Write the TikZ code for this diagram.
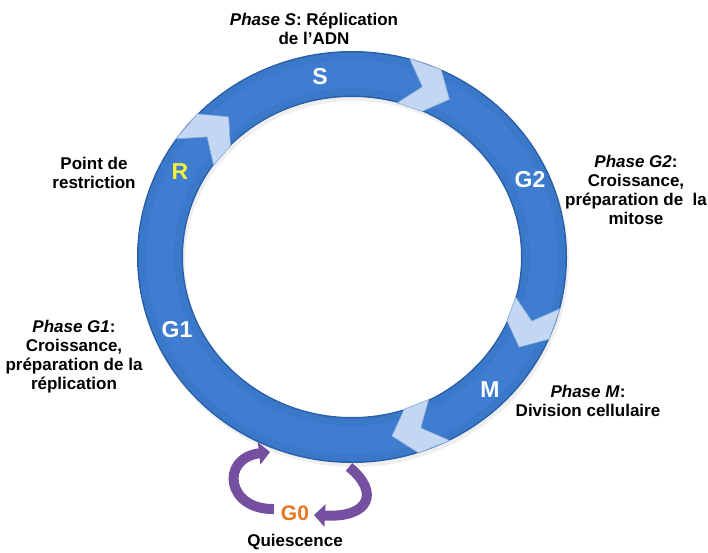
\documentclass[tikz,border=0pt]{standalone}
\usepackage{fontspec}
\setmainfont{Liberation Sans}
\usetikzlibrary{arrows.meta}
\definecolor{ringdark}{HTML}{2B5FA8}
\definecolor{ringmid}{HTML}{3A78CA}
\definecolor{ringlight}{HTML}{3E7DCF}
\definecolor{chevfill}{HTML}{C4D7F2}
\definecolor{chevline}{HTML}{86A8D8}
\definecolor{purp}{HTML}{7650A0}
\definecolor{gzero}{HTML}{E8761E}
\definecolor{ryellow}{HTML}{F2F23A}
\newcommand\chevshape[1]{%
  \filldraw[chev] ({352+215*cos(#1)},{257-206*sin(#1)})
   -- ({352+215*cos(#1-9)},{257-206*sin(#1-9)})
   -- ({352+192*cos(#1-15)},{257-183*sin(#1-15)})
   -- ({352+169*cos(#1-9)},{257-160*sin(#1-9)})
   -- ({352+169*cos(#1)},{257-160*sin(#1)})
   -- ({352+192*cos(#1-6)},{257-183*sin(#1-6)}) -- cycle;}
\tikzset{
  chev/.style={fill=chevfill, draw=chevline, line width=0.6pt, line join=miter},
  lbl/.style={font=\bfseries\fontsize{17}{19}\selectfont, align=center, text=black},
  ringlbl/.style={font=\bfseries\fontsize{23}{25}\selectfont, text=white},
  parr/.style={draw=purp, line width=10pt, -{Triangle[length=11pt,width=22pt]}},
}
\begin{document}
\begin{tikzpicture}[x=1pt,y=-1pt]
\useasboundingbox[fill=white] (0,0) rectangle (708,552);
% shadow
\draw[black!20, opacity=0.3, line width=46pt] (354,261) ellipse [x radius=192, y radius=183];
% ring
\draw[ringdark, line width=46pt] (352,257) ellipse [x radius=192, y radius=183];
\draw[ringmid, line width=43pt] (352,257) ellipse [x radius=192, y radius=183];
\draw[ringlight, line width=28pt] (352,257) ellipse [x radius=192, y radius=183];
% chevrons
\chevshape{74.5}
\chevshape{-14.5}
\chevshape{-63}
\chevshape{145}
% ring labels
\node[ringlbl] (s) at (320,77) {S};
\node[ringlbl] (g2) at (530,180) {G2};
\node[ringlbl] (m) at (490,390) {M};
\node[ringlbl] (g1) at (177,330) {G1};
\node[ringlbl, text=ryellow] (r) at (180,172) {R};
% texts
\node[lbl] (ts) at (314,29) {\textit{Phase S}: Réplication\\de l’ADN};
\node[lbl] (tr) at (94,173) {Point de\\restriction};
\node[lbl] (tg1) at (74,357) {\textit{Phase G1}:\\Croissance,\\préparation de la\\réplication};
\node[lbl] (tg2) at (636,190) {\textit{Phase G2}:\\Croissance,\\préparation de\ \ la\\mitose};
\node[lbl] (tm) at (588,401) {\textit{Phase M}:\\Division cellulaire};
\node[font=\bfseries\fontsize{21}{23}\selectfont, text=gzero] (g0) at (295,513) {G0};
\node[lbl] (q) at (295,542) {Quiescence};
% G0 arrows
\coordinate (lt) at (274,509);
\coordinate (lh) at (270,452);
\coordinate (rt) at (349,467);
\coordinate (rh) at (314,515);
\draw[parr] (lt) .. controls (226,510) and (220,458) .. (lh);
\draw[parr] (rt) .. controls (380,492) and (370,518) .. (rh);
\end{tikzpicture}
\end{document}
